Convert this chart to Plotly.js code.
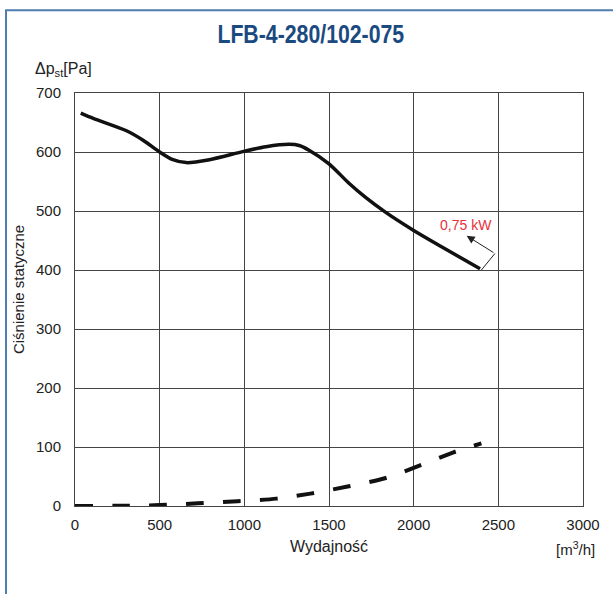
<!DOCTYPE html>
<html>
<head>
<meta charset="utf-8">
<script src="https://cdn.plot.ly/plotly-3.0.1.min.js"></script>
<style>html,body{margin:0;padding:0;background:#fff;}#chart{width:613px;height:594px;}</style>
</head>
<body>
<div id="chart"></div>
<script>
// Pressure curve (solid): flow [m3/h] vs static pressure [Pa]
const flowPressure = [34, 108, 304, 402, 500, 578, 657, 794, 996, 1128, 1265, 1324, 1382, 1500, 1618, 1716, 1833, 2000, 2167, 2392];
const staticPressure = [666, 657, 636, 620, 600, 587, 582, 587, 601, 609, 613, 611, 603, 580, 547, 523, 498, 467, 439, 402];
// Dashed curve
const flowDashed = [0, 300, 500, 725, 960, 1190, 1390, 1610, 1830, 2030, 2235, 2400];
const pressureDashed = [0, 0.5, 1.5, 4.5, 8, 12.5, 21, 33, 47, 68, 91, 106];
// Annotation: power label
const powerLabel = "0,75 kW";
const powerTail = [2400, 400];
const powerCorner = [2480, 428];
const powerHead = [2313, 458];
const powerText = [2310, 476];
// Axis ticks
const xTicks = [0, 500, 1000, 1500, 2000, 2500, 3000];
const yTicks = [0, 100, 200, 300, 400, 500, 600, 700];

const font = "Liberation Sans, Arial, sans-serif";
const txt = "#222";

const traces = [
  {x: flowDashed, y: pressureDashed, mode: "lines", line: {color: "#111", width: 4, dash: "18px,19px", shape: "spline", smoothing: 0.8}, hoverinfo: "skip"},
  {x: flowPressure, y: staticPressure, mode: "lines", line: {color: "#111", width: 3.5, shape: "spline", smoothing: 0.8}, hoverinfo: "skip"}
];

const layout = {
  width: 613, height: 594,
  margin: {l: 75, r: 30, t: 93, b: 88},
  paper_bgcolor: "#fff", plot_bgcolor: "#fff",
  showlegend: false,
  font: {family: font, size: 15, color: txt},
  title: {text: "<b>LFB-4-280/102-075</b>", font: {family: "Liberation Sans, Arial, sans-serif", size: 25, color: "#1b4a80"}, xref: "container", x: 0.507, xanchor: "center", yref: "container", y: 0.943, yanchor: "middle"},
  xaxis: {range: [0, 3000], tickvals: xTicks, ticktext: xTicks.map(String), showgrid: true, gridcolor: "#444", gridwidth: 1, showline: true, linecolor: "#444", linewidth: 1, mirror: true, zeroline: false, ticks: "", ticklabelstandoff: 5, tickfont: {size: 15, color: txt}, fixedrange: true},
  yaxis: {range: [0, 700], tickvals: yTicks, ticktext: yTicks.map(String), showgrid: true, gridcolor: "#444", gridwidth: 1, showline: true, linecolor: "#444", linewidth: 1, mirror: true, zeroline: false, ticks: "", ticklabelstandoff: 10, tickfont: {size: 15, color: txt}, fixedrange: true},
  shapes: [
    {type: "path", xref: "paper", yref: "paper", path: "M -0.1358 -0.25 L -0.1358 1.2005 L 1.1 1.2005", line: {color: "#4f7db0", width: 2}},
    {type: "line", xref: "x", yref: "y", x0: powerTail[0], y0: powerTail[1], x1: powerCorner[0], y1: powerCorner[1], line: {color: "#222", width: 1}}
  ],
  annotations: [
    {x: powerHead[0], y: powerHead[1], xref: "x", yref: "y", ax: powerCorner[0], ay: powerCorner[1], axref: "x", ayref: "y", text: "", showarrow: true, arrowhead: 2, arrowsize: 1.6, arrowwidth: 1, arrowcolor: "#222"},
    {x: powerText[0], y: powerText[1], xref: "x", yref: "y", text: powerLabel, showarrow: false, font: {size: 14, color: "#e8303a"}, xanchor: "center", yanchor: "middle"},
    {x: -0.083, y: 1.056, xref: "paper", yref: "paper", text: "Δp<sub>st</sub>[Pa]", showarrow: false, xanchor: "left", yanchor: "middle", font: {size: 16, color: txt}},
    {x: -0.112, y: 0.523, xref: "paper", yref: "paper", text: "Ciśnienie statyczne", textangle: -90, showarrow: false, xanchor: "center", yanchor: "middle", font: {size: 15, color: txt}},
    {x: 0.5, y: -0.098, xref: "paper", yref: "paper", text: "Wydajność", showarrow: false, xanchor: "center", yanchor: "middle", font: {size: 16, color: txt}},
    {x: 0.985, y: -0.103, xref: "paper", yref: "paper", text: "[m<sup>3</sup>/h]", showarrow: false, xanchor: "center", yanchor: "middle", font: {size: 15, color: txt}}
  ]
};

Plotly.newPlot("chart", traces, layout, {staticPlot: true, displayModeBar: false}).then(function (gd) {
  // condense the title horizontally to match the narrow typeface of the reference
  const t = gd.querySelector(".gtitle");
  if (t) {
    const bb = t.getBBox();
    const cx = bb.x + bb.width / 2;
    const s = 187 / bb.width;
    t.setAttribute("transform", "translate(" + cx + ",0) scale(" + s + ",1) translate(" + (-cx) + ",0)");
  }
});
</script>
</body>
</html>
